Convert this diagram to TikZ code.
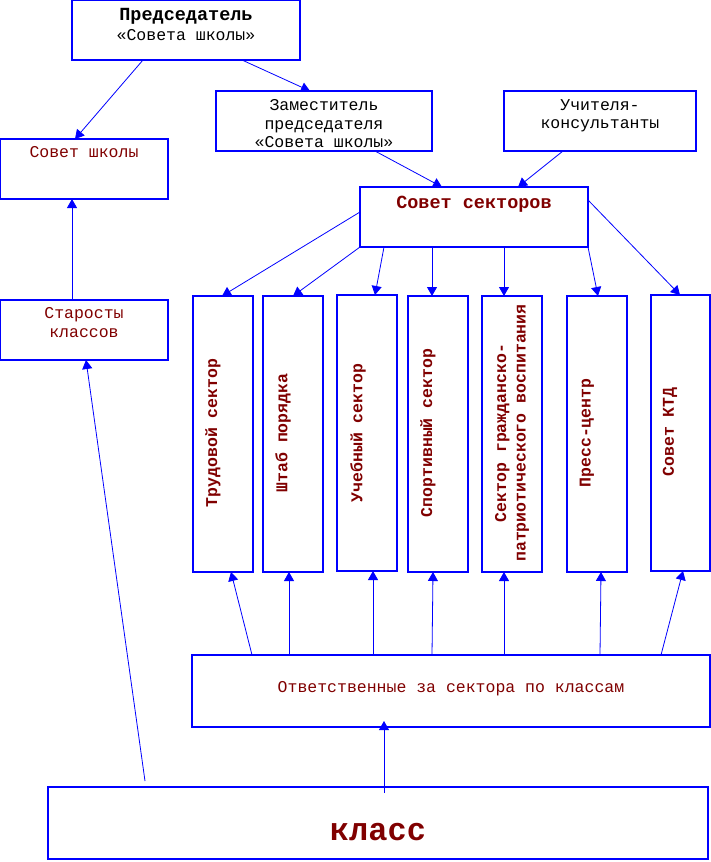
\documentclass[tikz,border=0pt]{standalone}
\usepackage{fontspec}
\setmainfont{Liberation Mono}
\usetikzlibrary{arrows.meta,calc}
\definecolor{dred}{RGB}{128,0,0}
\definecolor{lblue}{RGB}{0,0,255}
\begin{document}
\begin{tikzpicture}[x=1pt,y=-1pt,
  box/.style={draw=lblue, line width=1.3pt, inner sep=0pt, outer sep=0pt, anchor=north west},
  conn/.style={draw=lblue, line width=0.8pt, -{Triangle[length=9pt,width=10pt]}},
  txt/.style={inner sep=0pt, anchor=base, font=\fontsize{16.5}{18.5}\selectfont, text=dred},
  blk/.style={txt, text=black},
  bigtxt/.style={txt, font=\bfseries\fontsize{18.5}{20}\selectfont},
  vtxt/.style={inner sep=0pt, rotate=90, font=\bfseries\fontsize{16.5}{19.5}\selectfont, text=dred, align=center}
]
\useasboundingbox (0,0) rectangle (711,862);

% boxes
\node[box, minimum width=228pt, minimum height=60pt] (chair) at (72,0) {};
\node[box, minimum width=168pt, minimum height=60pt] (sovsh) at (0,139) {};
\node[box, minimum width=216pt, minimum height=60pt] (dep) at (216,91) {};
\node[box, minimum width=192pt, minimum height=60pt] (teach) at (504,91) {};
\node[box, minimum width=228pt, minimum height=60pt] (ss) at (360,187) {};
\node[box, minimum width=168pt, minimum height=60pt] (star) at (0,300) {};
\node[box, minimum width=60pt, minimum height=276pt] (s1) at (193,296) {};
\node[box, minimum width=60pt, minimum height=276pt] (s2) at (263,296) {};
\node[box, minimum width=60pt, minimum height=276pt] (s3) at (337,295) {};
\node[box, minimum width=60pt, minimum height=276pt] (s4) at (408,296) {};
\node[box, minimum width=60pt, minimum height=276pt] (s5) at (482,296) {};
\node[box, minimum width=60pt, minimum height=276pt] (s6) at (567,296) {};
\node[box, minimum width=59pt, minimum height=276pt] (s7) at (651,295) {};
\node[box, minimum width=518pt, minimum height=72pt] (otv) at (192,655) {};
\node[box, minimum width=660pt, minimum height=72pt] (klass) at (48,787) {};

% texts
\node[blk, font=\bfseries\fontsize{18.5}{20}\selectfont] (tchair1) at (186,20) {Председатель};
\node[blk] (tchair2) at (186,40) {«Совета школы»};
\node[txt] (tsovsh) at (84,157) {Совет школы};
\node[blk] (tdep1) at (324,110) {Заместитель};
\node[blk] (tdep2) at (324,129) {председателя};
\node[blk] (tdep3) at (324,147) {«Совета школы»};
\node[blk] (tteach1) at (600,110) {Учителя-};
\node[blk] (tteach2) at (600,128) {консультанты};
\node[bigtxt] (tss) at (474,208) {Совет секторов};
\node[txt] (tstar1) at (84,318) {Старосты};
\node[txt] (tstar2) at (84,337) {классов};
\node[txt] (totv) at (451,692) {Ответственные за сектора по классам};
\node[txt, font=\bfseries\fontsize{32}{34}\selectfont] (tklass) at (378,840) {класс};

\node[vtxt] (ts1) at (213,433) {Трудовой сектор};
\node[vtxt] (ts2) at (283,433) {Штаб порядка};
\node[vtxt] (ts3) at (358,433) {Учебный сектор};
\node[vtxt] (ts4) at (428,433) {Спортивный сектор};
\node[vtxt] (ts5) at (512,433) {Сектор гражданско-\\патриотического воспитания};
\node[vtxt] (ts6) at (587,433) {Пресс-центр};
\node[vtxt] (ts7) at (670,432) {Совет КТД};

% connectors top
\draw[conn] ($(chair.south west)+(71,0)$) -- ($(sovsh.north west)+(75,0)$);
\draw[conn] ($(chair.south west)+(170,0)$) -- ($(dep.north west)+(94,0)$);
\draw[conn] ($(dep.south west)+(159,0)$) -- ($(ss.north west)+(82,0)$);
\draw[conn] ($(teach.south west)+(59,0)$) -- ($(ss.north west)+(158,0)$);
\draw[conn] ($(star.north west)+(72,0)$) -- ($(sovsh.south west)+(72,0)$);

% Совет секторов -> sectors
\draw[conn] ($(ss.north west)+(0,25)$) -- ($(s1.north west)+(29,0)$);
\draw[conn] (ss.south west) -- ($(s2.north west)+(30,0)$);
\draw[conn] ($(ss.south west)+(24,0)$) -- ($(s3.north west)+(38,0)$);
\draw[conn] ($(ss.south west)+(72,0)$) -- ($(s4.north west)+(24,0)$);
\draw[conn] ($(ss.south west)+(144,0)$) -- ($(s5.north west)+(22,0)$);
\draw[conn] (ss.south east) -- ($(s6.north west)+(31,0)$);
\draw[conn] ($(ss.north east)+(0,13)$) -- ($(s7.north west)+(29,0)$);

% Ответственные -> sectors
\draw[conn] ($(otv.north west)+(60,0)$) -- ($(s1.south west)+(38,0)$);
\draw[conn] ($(otv.north west)+(97,0)$) -- ($(s2.south west)+(26,0)$);
\draw[conn] ($(otv.north west)+(181,0)$) -- ($(s3.south west)+(36,0)$);
\draw[conn] ($(otv.north west)+(240,0)$) -- ($(s4.south west)+(25,0)$);
\draw[conn] ($(otv.north west)+(312,0)$) -- ($(s5.south west)+(22,0)$);
\draw[conn] ($(otv.north west)+(408,0)$) -- ($(s6.south west)+(34,0)$);
\draw[conn] ($(otv.north west)+(469,0)$) -- ($(s7.south west)+(32,0)$);

% класс
\draw[conn] ($(klass.north west)+(336,6)$) -- ($(otv.south west)+(192,-6)$);
\draw[conn] ($(klass.north west)+(97,-6)$) -- ($(star.south west)+(86,0)$);
\end{tikzpicture}
\end{document}
